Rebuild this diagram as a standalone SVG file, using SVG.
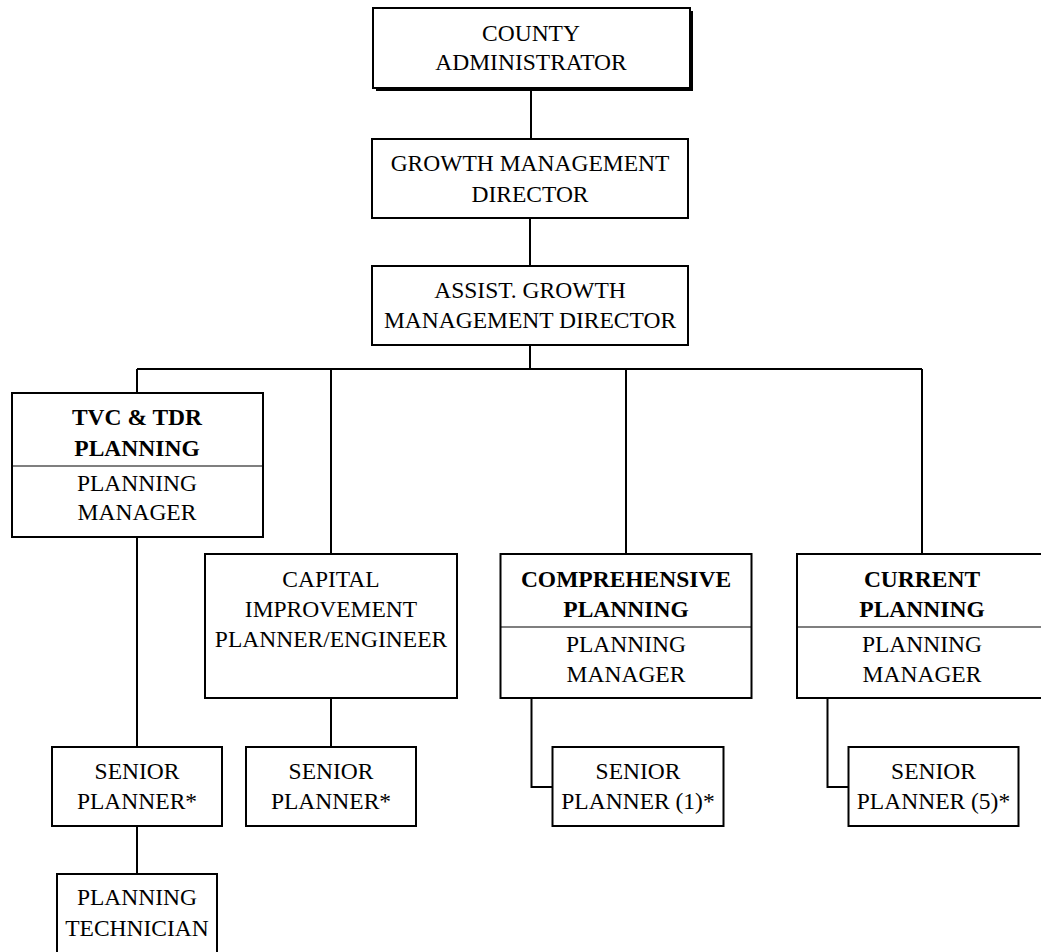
<svg xmlns="http://www.w3.org/2000/svg" width="1041" height="952" viewBox="0 0 1041 952">
  <style>
    .box { fill: #fff; stroke: #000; stroke-width: 2; }
    .shadow { fill: #000; stroke: none; }
    .div { stroke: #000; stroke-width: 1.2; fill: none; }
    .conn { stroke: #000; stroke-width: 2; fill: none; }
    text { font-family: "Liberation Serif", "Times New Roman", serif; font-size: 23.5px; fill: #000; text-anchor: middle; }
    .b { font-weight: bold; }
  </style>
  <rect width="1041" height="952" fill="#fff"/>

  <!-- connectors -->
  <g id="connectors">
    <line class="conn" x1="531" y1="88" x2="531" y2="139"/>
    <line class="conn" x1="530" y1="218" x2="530" y2="266"/>
    <line class="conn" x1="530" y1="345" x2="530" y2="369"/>
    <line class="conn" x1="137" y1="369" x2="922" y2="369"/>
    <line class="conn" x1="137" y1="369" x2="137" y2="393"/>
    <line class="conn" x1="331" y1="369" x2="331" y2="554"/>
    <line class="conn" x1="626" y1="369" x2="626" y2="554"/>
    <line class="conn" x1="922" y1="369" x2="922" y2="554"/>
    <line class="conn" x1="137" y1="537" x2="137" y2="747"/>
    <line class="conn" x1="137" y1="826" x2="137" y2="874"/>
    <line class="conn" x1="331" y1="698" x2="331" y2="747"/>
    <polyline class="conn" points="531.5,698 531.5,787 552.5,787"/>
    <polyline class="conn" points="827.5,698 827.5,787 848.5,787"/>
  </g>

  <!-- top of the chain -->
  <g id="county-administrator">
    <rect class="shadow" x="376" y="11" width="317" height="80"/>
    <rect class="box" x="373" y="8" width="317" height="80"/>
    <text x="531" y="41">COUNTY</text>
    <text x="531" y="70">ADMINISTRATOR</text>
  </g>

  <g id="growth-management-director">
    <rect class="box" x="372" y="139" width="316" height="79"/>
    <text x="530" y="170.5">GROWTH MANAGEMENT</text>
    <text x="530" y="201.5">DIRECTOR</text>
  </g>

  <g id="assist-director">
    <rect class="box" x="372" y="266" width="316" height="79"/>
    <text x="530" y="298">ASSIST. GROWTH</text>
    <text x="530" y="328">MANAGEMENT DIRECTOR</text>
  </g>

  <!-- divisions -->
  <g id="tvc-tdr-planning">
    <rect class="box" x="12" y="393" width="251" height="144"/>
    <line class="div" x1="12" y1="466" x2="263" y2="466"/>
    <text class="b" x="137" y="425">TVC &amp; TDR</text>
    <text class="b" x="137" y="456">PLANNING</text>
    <text x="137" y="490.5">PLANNING</text>
    <text x="137" y="520">MANAGER</text>
  </g>

  <g id="capital-improvement">
    <rect class="box" x="205" y="554" width="252" height="144"/>
    <text x="331" y="587">CAPITAL</text>
    <text x="331" y="617">IMPROVEMENT</text>
    <text x="331" y="647">PLANNER/ENGINEER</text>
  </g>

  <g id="comprehensive-planning">
    <rect class="box" x="500.5" y="554" width="251" height="144"/>
    <line class="div" x1="500.5" y1="627" x2="751.5" y2="627"/>
    <text class="b" x="626" y="586.5">COMPREHENSIVE</text>
    <text class="b" x="626" y="616.5">PLANNING</text>
    <text x="626" y="651.5">PLANNING</text>
    <text x="626" y="681.5">MANAGER</text>
  </g>

  <g id="current-planning">
    <rect class="box" x="797" y="554" width="251" height="144"/>
    <line class="div" x1="797" y1="627" x2="1048" y2="627"/>
    <text class="b" x="922" y="586.5">CURRENT</text>
    <text class="b" x="922" y="616.5">PLANNING</text>
    <text x="922" y="651.5">PLANNING</text>
    <text x="922" y="681.5">MANAGER</text>
  </g>

  <!-- staff -->
  <g id="senior-planner-tvc">
    <rect class="box" x="52" y="747" width="170" height="79"/>
    <text x="137" y="779">SENIOR</text>
    <text x="137" y="809">PLANNER*</text>
  </g>

  <g id="senior-planner-capital">
    <rect class="box" x="246" y="747" width="170" height="79"/>
    <text x="331" y="779">SENIOR</text>
    <text x="331" y="809">PLANNER*</text>
  </g>

  <g id="senior-planner-comprehensive">
    <rect class="box" x="552.5" y="747" width="171" height="79"/>
    <text x="638" y="779">SENIOR</text>
    <text x="638" y="809">PLANNER (1)*</text>
  </g>

  <g id="senior-planner-current">
    <rect class="box" x="848.5" y="747" width="170" height="79"/>
    <text x="933.5" y="779">SENIOR</text>
    <text x="933.5" y="809">PLANNER (5)*</text>
  </g>

  <g id="planning-technician">
    <rect class="box" x="57" y="874" width="160" height="82"/>
    <text x="137" y="905">PLANNING</text>
    <text x="137" y="936">TECHNICIAN</text>
  </g>
</svg>
